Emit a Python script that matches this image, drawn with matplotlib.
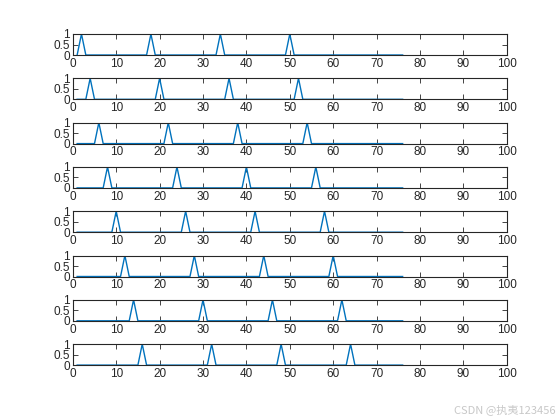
import numpy as np
import matplotlib.pyplot as plt

# sample index and spike positions for each of the 8 rows
x = np.arange(1, 77)
spikes = [
    [2, 18, 34, 50],
    [4, 20, 36, 52],
    [6, 22, 38, 54],
    [8, 24, 40, 56],
    [10, 26, 42, 58],
    [12, 28, 44, 60],
    [14, 30, 46, 62],
    [16, 32, 48, 64],
]
xticks = list(range(0, 101, 10))
yticks = [0, 0.5, 1]
yticklabels = ['0', '0.5', '1']

plt.rcParams['font.family'] = ['Liberation Sans', 'DejaVu Sans']
fig = plt.figure(figsize=(5.6, 4.2), dpi=100)

left, width = 0.13, 0.775
top0, step, h = 34 / 420, 44.3 / 420, 21 / 420
axcol = (0.15, 0.15, 0.15)

for i, pos in enumerate(spikes):
    y = np.zeros(len(x))
    y[np.isin(x, pos)] = 1
    bottom = 1 - (top0 + i * step + h)
    ax = fig.add_axes([left, bottom, width, h])
    ax.plot(x, y, color='#0072BD', linewidth=1.0)
    ax.set_xlim(0, 100)
    ax.set_ylim(0, 1)
    ax.set_xticks(xticks)
    ax.set_yticks(yticks)
    ax.set_yticklabels(yticklabels)
    ax.tick_params(direction='in', top=True, right=True, length=3.5,
                   width=0.6, labelsize=8.5, colors=axcol, pad=2)
    for s in ax.spines.values():
        s.set_color(axcol)
        s.set_linewidth(0.8)

fig.text(0.993, 0.012, 'CSDN @执夷123456', ha='right', va='bottom',
         fontsize=8, color='#c8c8c8',
         family=['Noto Sans CJK SC', 'DejaVu Sans'])

fig.savefig('out.png', dpi=100)
